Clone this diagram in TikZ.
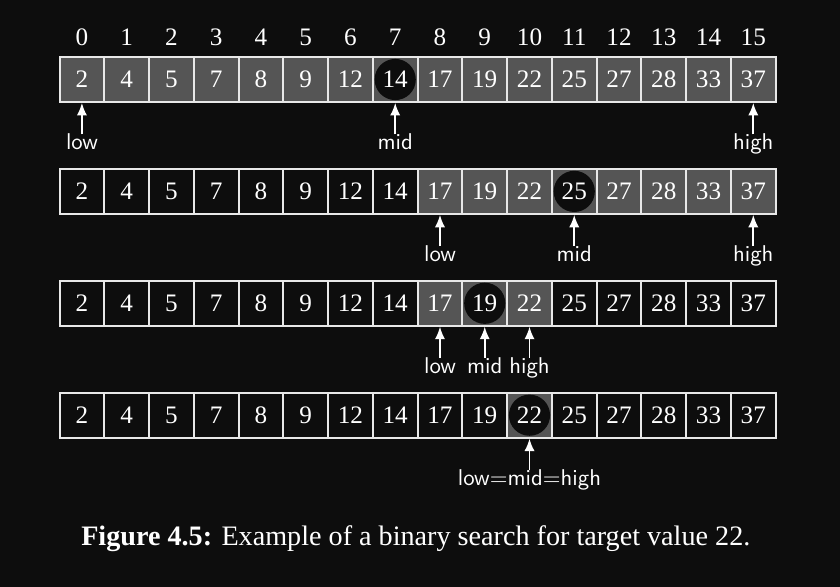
\documentclass[tikz,border=0pt]{standalone}
\usepackage{fontspec}
\newfontfamily\captionfont{Liberation Serif}
\newfontfamily\lblfont{lmsans10-regular}[Extension=.otf]
\usepackage{color}
\definecolor{mybg}{RGB}{13,13,13}
\definecolor{mygray}{RGB}{85,85,85}
\definecolor{myline}{RGB}{232,232,232}
\usepackage{tikz}
\usetikzlibrary{arrows.meta,positioning}
\tikzstyle{cell}=[draw=myline,line width=1.3pt,minimum size=1cm,inner sep=0pt,text=white,font=\captionfont\fontsize{16}{18}\selectfont]
\tikzstyle{idx}=[text=white,anchor=base,font=\captionfont\fontsize{16}{18}\selectfont]
\tikzstyle{ptrlabel}=[text=white,anchor=base,inner xsep=1pt,inner ysep=2.6pt,text height=1.6ex,text depth=0.4ex,font=\lblfont\fontsize{14.5}{16}\selectfont]
\tikzstyle{ptr}=[white,line width=1.1pt,-{Latex[length=2.8mm,width=2.3mm]}]

\begin{document}
\begin{tikzpicture}
\fill[mybg] (-1.83,-11.338) rectangle (16.937,1.776);
% indices
\foreach \i in {0,...,15}
  \node[idx] (i\i) at (\i,0.764) {\i};
% the four rows of the array
\foreach \row/\y/\lo/\hi/\md in {1/0/0/15/7, 2/-2.5/8/15/11, 3/-5/8/10/9, 4/-7.5/10/10/10}{
  \foreach \v [count=\i from 0] in {2,4,5,7,8,9,12,14,17,19,22,25,27,28,33,37}{
    \ifnum\i<\lo\relax \def\fillcol{mybg}\else
      \ifnum\i>\hi\relax \def\fillcol{mybg}\else \def\fillcol{mygray}\fi\fi
    \node[cell,fill=\fillcol,path picture={\ifnum\i=\md\relax
        \fill[mybg] (path picture bounding box.center) circle (0.46cm);\fi}]
      (c\row-\i) at (\i,\y) {\v};
  }
}
% low, mid and high
\foreach \row/\i/\txt in {1/0/low, 1/7/mid, 1/15/high, 2/8/low, 2/11/mid, 2/15/high,
    3/8/low, 3/9/mid, 3/10/high, 4/10/low=mid=high}{
  \node[ptrlabel] (p\row-\i) at (\i,{-2.5*\row+0.936}) {\txt};
  \draw[ptr] (p\row-\i) -- (c\row-\i);
}
\node[text=white,anchor=base,font=\captionfont\fontsize{17.9}{21}\selectfont] (caption) at (7.46,-10.40)
  {\textbf{Figure 4.5:} Example of a binary search for target value 22.};
\end{tikzpicture}
\end{document}
